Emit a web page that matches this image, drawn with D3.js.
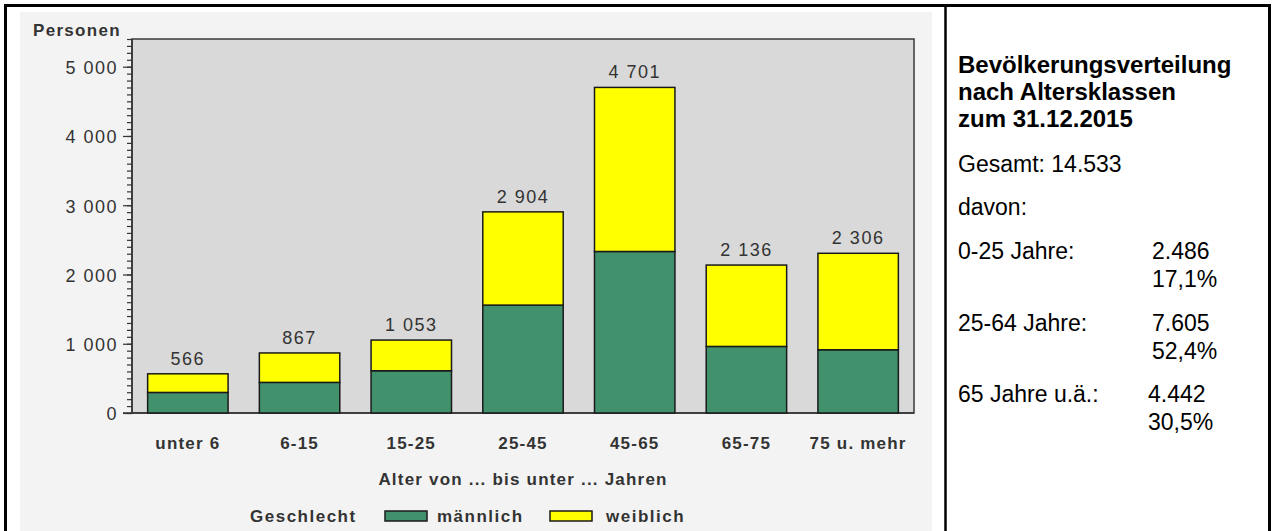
<!doctype html>
<html>
  <head>
    <meta charset="utf-8">
    <script src="https://cdnjs.cloudflare.com/ajax/libs/d3/7.8.5/d3.min.js" type="text/JavaScript"></script>
    <style>
      body { margin: 0; background: #fff; }
      text.chart { font-family: "Liberation Sans", Arial, sans-serif; fill: #333; }
      text.side { font-family: "Liberation Sans", Arial, sans-serif; fill: #000; font-size: 23px; }
      rect.bar { stroke: #1a1a1a; stroke-width: 1.5; }
      .yaxis path { display: none; }
      .yaxis line { stroke: #333; stroke-width: 1.2; }
    </style>
  </head>
  <body>
    <svg id="viz" width="1272" height="531"></svg>
    <script type="text/javascript">
      // values
      var categories = ["unter 6", "6-15", "15-25", "25-45", "45-65", "65-75", "75 u. mehr"];
      var male = [297, 442, 610, 1558, 2332, 961, 913];
      var female = [269, 425, 443, 1346, 2369, 1175, 1393];
      var totals = [566, 867, 1053, 2904, 4701, 2136, 2306];
      var yTicks = [0, 1000, 2000, 3000, 4000, 5000];
      var seriesNames = ["männlich", "weiblich"];
      var seriesColors = ["#40916c", "#ffff00"];

      var sideTitle = ["Bevölkerungsverteilung", "nach Altersklassen", "zum 31.12.2015"];
      var sideTotal = "Gesamt: 14.533";
      var sideGroups = ["0-25 Jahre:", "25-64 Jahre:", "65 Jahre u.ä.:"];
      var sideCounts = ["2.486", "7.605", "4.442"];
      var sidePercents = ["17,1%", "52,4%", "30,5%"];

      var de = d3.formatLocale({decimal: ",", thousands: " ", grouping: [3], currency: ["", ""]});
      var fmt = de.format(",d");

      var svg = d3.select("#viz");

      // outer frame + grey chart panel
      svg.append("rect").attr("x", 20).attr("y", 12).attr("width", 912).attr("height", 530).attr("fill", "#f3f3f3");
      svg.append("rect").attr("x", 5.5).attr("y", 5.5).attr("width", 1264).attr("height", 540)
        .attr("fill", "none").attr("stroke", "#000").attr("stroke-width", 3);
      svg.append("line").attr("x1", 945.5).attr("x2", 945.5).attr("y1", 5).attr("y2", 531)
        .attr("stroke", "#000").attr("stroke-width", 2.5);

      var plotL = 132, plotR = 914, plotT = 39, plotB = 413;

      var x = d3.scaleBand().domain(categories).range([plotL, plotR]).paddingInner(0.28).paddingOuter(0.14);
      var y = d3.scaleLinear().domain([0, 5400]).range([plotB, plotT]);

      // plot area
      svg.append("rect").attr("x", plotL).attr("y", plotT).attr("width", plotR - plotL).attr("height", plotB - plotT)
        .attr("fill", "#d9d9d9").attr("stroke", "#3a3a3a").attr("stroke-width", 1.5);

      // minor ticks every 100
      svg.append("g").attr("class", "yaxis").attr("transform", "translate(" + plotL + ",0)")
        .call(d3.axisLeft(y).tickValues(d3.range(0, 5401, 100)).tickSize(5).tickFormat(""));
      // major ticks
      var yAxis = svg.append("g").attr("class", "yaxis").attr("transform", "translate(" + plotL + ",0)")
        .call(d3.axisLeft(y).tickValues(yTicks).tickSize(9).tickPadding(5).tickFormat(fmt));
      yAxis.selectAll("text").attr("class", "chart").attr("font-size", 18).attr("letter-spacing", 1.5)
        .attr("fill", "#333").attr("dy", "0.38em");
      svg.append("line").attr("x1", plotL).attr("x2", plotL).attr("y1", plotT).attr("y2", plotB)
        .attr("stroke", "#333").attr("stroke-width", 1.5);
      svg.append("line").attr("x1", plotL - 9).attr("x2", plotR).attr("y1", plotB).attr("y2", plotB)
        .attr("stroke", "#333").attr("stroke-width", 1.5);

      // stacked bars
      var table = categories.map(function(c, i) { return {cat: c, "männlich": male[i], "weiblich": female[i]}; });
      var stack = d3.stack().keys(seriesNames)(table);
      svg.append("g").selectAll("g").data(stack).enter().append("g")
        .attr("fill", function(d, i) { return seriesColors[i]; })
        .selectAll("rect").data(function(d) { return d; }).enter().append("rect")
          .attr("class", "bar")
          .attr("x", function(d) { return x(d.data.cat); })
          .attr("width", x.bandwidth())
          .attr("y", function(d) { return y(d[1]); })
          .attr("height", function(d) { return y(d[0]) - y(d[1]); });

      // totals above the bars
      svg.append("g").selectAll("text").data(totals).enter().append("text")
        .attr("class", "chart")
        .attr("x", function(d, i) { return x(categories[i]) + x.bandwidth() / 2; })
        .attr("y", function(d) { return y(d) - 9; })
        .attr("text-anchor", "middle").attr("font-size", 18).attr("letter-spacing", 1.5)
        .text(function(d) { return fmt(d); });

      // category labels
      svg.append("g").selectAll("text").data(categories).enter().append("text")
        .attr("class", "chart")
        .attr("x", function(d) { return x(d) + x.bandwidth() / 2; })
        .attr("y", 449)
        .attr("text-anchor", "middle").attr("font-size", 17).attr("font-weight", "bold")
        .attr("letter-spacing", 1.2).attr("fill", "#444")
        .text(function(d) { return d; });

      svg.append("text").attr("class", "chart").attr("x", (plotL + plotR) / 2).attr("y", 485)
        .attr("text-anchor", "middle").attr("font-size", 17).attr("font-weight", "bold")
        .attr("letter-spacing", 1.2).attr("fill", "#444")
        .text("Alter von ... bis unter ... Jahren");

      svg.append("text").attr("class", "chart").attr("x", 33).attr("y", 36)
        .attr("font-size", 17).attr("font-weight", "bold").attr("letter-spacing", 1.3).attr("fill", "#444")
        .text("Personen");

      // legend
      var legend = svg.append("g");
      legend.append("text").attr("class", "chart").attr("x", 250).attr("y", 522)
        .attr("font-size", 17).attr("font-weight", "bold").attr("letter-spacing", 1.5).attr("fill", "#444")
        .text("Geschlecht");
      var legX = [385, 550];
      var legItems = legend.selectAll("g.item").data(seriesNames).enter().append("g").attr("class", "item");
      legItems.append("rect")
        .attr("x", function(d, i) { return legX[i]; }).attr("y", 511)
        .attr("width", 42).attr("height", 10)
        .attr("fill", function(d, i) { return seriesColors[i]; })
        .attr("stroke", "#1a1a1a").attr("stroke-width", 1.5);
      legItems.append("text").attr("class", "chart")
        .attr("x", function(d, i) { return legX[i] + (i === 0 ? 52 : 56); }).attr("y", 522)
        .attr("font-size", 17).attr("font-weight", "bold").attr("letter-spacing", 1.5).attr("fill", "#444")
        .text(function(d) { return d; });

      // side panel
      var side = svg.append("g");
      side.selectAll("text.title").data(sideTitle).enter().append("text")
        .attr("class", "side title").attr("x", 958)
        .attr("y", function(d, i) { return 73 + i * 27; })
        .attr("font-weight", "bold").style("font-size", "24px")
        .text(function(d) { return d; });
      side.append("text").attr("class", "side").attr("x", 958).attr("y", 172).text(sideTotal);
      side.append("text").attr("class", "side").attr("x", 958).attr("y", 215).text("davon:");
      var valX = [1152, 1152, 1148];
      sideGroups.forEach(function(g, i) {
        var yy = 259 + i * 71.5;
        side.append("text").attr("class", "side").attr("x", 958).attr("y", yy).text(g);
        side.append("text").attr("class", "side").attr("x", valX[i]).attr("y", yy).text(sideCounts[i]);
        side.append("text").attr("class", "side").attr("x", valX[i]).attr("y", yy + 28).text(sidePercents[i]);
      });
    </script>
  </body>
</html>
